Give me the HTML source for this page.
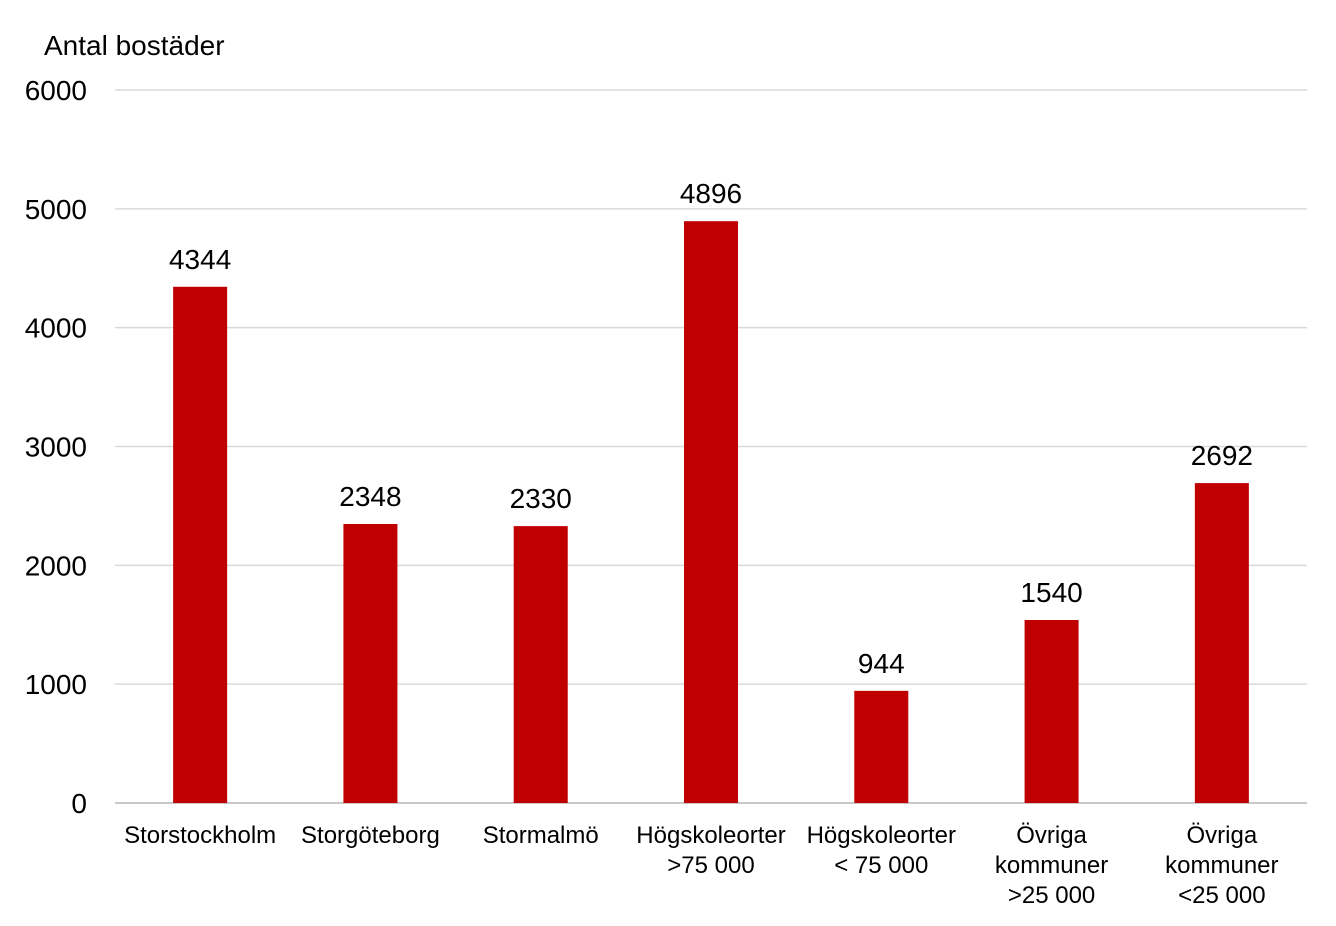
<!DOCTYPE html>
<html><head><meta charset="utf-8"><style>
html,body{margin:0;padding:0;background:#fff;}
svg{display:block;font-family:"Liberation Sans",Arial,sans-serif;}
</style></head><body>
<svg id="chart" width="1336" height="926">
<text x="44" y="55" font-size="28" fill="#000">Antal bostäder</text>
<g id="grid"></g><g id="bars"></g><g id="labels"></g>
</svg>
<script>
const categories = [["Storstockholm"],["Storgöteborg"],["Stormalmö"],["Högskoleorter",">75 000"],["Högskoleorter","< 75 000"],["Övriga","kommuner",">25 000"],["Övriga","kommuner","<25 000"]];
const values = [4344,2348,2330,4896,944,1540,2692];
const yTicks = [0,1000,2000,3000,4000,5000,6000];
const NS="http://www.w3.org/2000/svg";
const x0=115,x1=1307,yBase=803,yTop=90,yMax=6000;
const y=v=>yBase-(v/yMax)*(yBase-yTop);
const band=(x1-x0)/values.length;
const xc=i=>x0+band*(i+0.5);
function mk(t,a,p){const e=document.createElementNS(NS,t);for(const k in a)e.setAttribute(k,a[k]);p.appendChild(e);return e;}
const grid=document.getElementById('grid'),bars=document.getElementById('bars'),labels=document.getElementById('labels');
yTicks.forEach(t=>{
 const l=mk('line',{x1:x0,x2:x1,y1:y(t),y2:y(t),stroke:t===0?'#c8c8c8':'#d9d9d9','stroke-width':t===0?2:1.5},grid);
 
 
 const tx=mk('text',{x:87,y:y(t)+10,'font-size':28,'text-anchor':'end',fill:'#000'},grid);
 tx.textContent=t;
 
 
});
values.forEach((v,i)=>{
 const w=54;
 const r=mk('rect',{x:xc(i)-w/2,y:y(v),width:w,height:yBase-y(v),fill:'#c00000'},bars);
 
 
 const vt=mk('text',{x:xc(i),y:y(v)-18,'font-size':28,'text-anchor':'middle',fill:'#000'},labels);
 vt.textContent=v;
 
 
 const ct=mk('text',{x:xc(i),y:843,'font-size':24,'text-anchor':'middle',fill:'#000'},labels);
 
 
 categories[i].forEach((line,j)=>{const s=mk('tspan',{x:xc(i),dy:j?30:0},ct);s.textContent=line;});
});
</script>
</body></html>
